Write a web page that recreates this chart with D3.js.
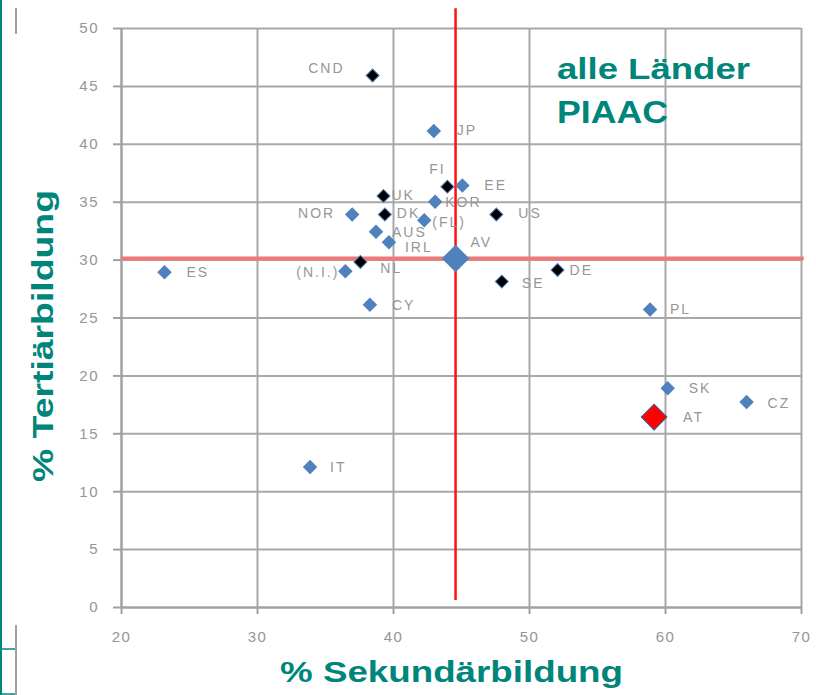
<!DOCTYPE html>
<html>
<head>
<meta charset="utf-8">
<script src="https://cdn.jsdelivr.net/npm/d3@7"></script>
<style>
  body { margin: 0; background: #fff; }
  svg { display: block; font-family: "Liberation Sans", Arial, sans-serif; }
  .tick text { fill: #969696; font-size: 15px; letter-spacing: 1.5px; }
  .pt-label { fill: #969696; font-size: 14px; letter-spacing: 2px; }
</style>
</head>
<body>
<svg width="816" height="695"></svg>
<script>
// values
const countries = ['CND', 'JP', 'FI', 'EE', 'UK', 'KOR', 'NOR', 'DK', 'US', '(FL)', 'AUS', 'IRL',
                   'NL', '(N.I.)', 'ES', 'CY', 'SE', 'DE', 'PL', 'SK', 'CZ', 'IT', 'AV', 'AT'];
const secondary = [38.5, 43.0, 44.0, 45.1, 39.3, 43.1, 37.0, 39.4, 47.6, 42.3, 38.75, 39.7,
                   37.6, 36.5, 23.2, 38.3, 48.0, 52.1, 58.9, 60.2, 66.0, 33.9, 44.6, 59.2];
const tertiary  = [45.9, 41.1, 36.3, 36.4, 35.5, 35.0, 33.9, 33.9, 33.9, 33.4, 32.4, 31.5,
                   29.8, 29.0, 28.9, 26.1, 28.1, 29.1, 25.7, 18.9, 17.7, 12.1, 30.1, 16.4];
const groups    = ['dark', 'blue', 'dark', 'blue', 'dark', 'blue', 'blue', 'dark', 'dark', 'blue', 'blue', 'blue',
                   'dark', 'blue', 'blue', 'blue', 'dark', 'dark', 'blue', 'blue', 'blue', 'blue', 'avg', 'at'];

const xTicks = [20, 30, 40, 50, 60, 70];
const yTicks = [0, 5, 10, 15, 20, 25, 30, 35, 40, 45, 50];

// average reference lines
const avgSecondary = 44.6;
const avgTertiary = 30.1;

// label placement (dx, dy, anchor) per country
const labelPos = {
  'CND': [-28, -7, 'end'], 'JP': [23, -1], 'FI': [-10, -18, 'middle'], 'EE': [22, 0],
  'UK': [8, -1], 'KOR': [10, 0], 'NOR': [-17, -1, 'end'], 'DK': [12, -1], 'US': [22, -1],
  '(FL)': [8, 2], 'AUS': [16, 0], 'IRL': [16, 5], 'NL': [20, 6], '(N.I.)': [-6, 1, 'end'],
  'ES': [22, 0], 'CY': [22, 0], 'SE': [20, 1], 'DE': [12, 0], 'PL': [20, 0], 'SK': [21, 0],
  'CZ': [21, 1], 'IT': [20, 0], 'AV': [15, -16], 'AT': [29, 0]
};

const teal = '#00857b';
const margins = {t: 28, r: 15, b: 88, l: 121};
const SVGsize = {w: 816, h: 695};
const size = {w: SVGsize.w - margins.l - margins.r, h: SVGsize.h - margins.t - margins.b};

const svg = d3.select('svg');

// page frame bits on the left edge
svg.append('line').attr('x1', 1).attr('x2', 1).attr('y1', 0).attr('y2', 695)
  .attr('stroke', teal).attr('stroke-width', 2);
svg.append('line').attr('x1', 16).attr('x2', 16).attr('y1', 8).attr('y2', 34)
  .attr('stroke', '#a0a0a0').attr('stroke-width', 2);
svg.append('line').attr('x1', 16).attr('x2', 16).attr('y1', 625).attr('y2', 695)
  .attr('stroke', '#a0a0a0').attr('stroke-width', 2);
svg.append('line').attr('x1', 0).attr('x2', 15).attr('y1', 649).attr('y2', 649)
  .attr('stroke', teal).attr('stroke-width', 1.5);
svg.append('line').attr('x1', 0).attr('x2', 15).attr('y1', 694).attr('y2', 694)
  .attr('stroke', teal).attr('stroke-width', 1.5);

const g = svg.append('g').attr('transform', `translate(${margins.l}, ${margins.t})`);

const scaleX = d3.scaleLinear().domain([20, 70]).range([0, size.w]);
const scaleY = d3.scaleLinear().domain([0, 50]).range([size.h, 0]);

// grid
g.append('g').attr('class', 'grid')
  .call(d3.axisLeft(scaleY).tickValues(yTicks).tickSize(-size.w).tickFormat(''))
  .call(s => s.select('.domain').remove());
g.append('g').attr('class', 'grid')
  .attr('transform', `translate(0, ${size.h})`)
  .call(d3.axisBottom(scaleX).tickValues(xTicks).tickSize(-size.h).tickFormat(''))
  .call(s => s.select('.domain').remove());
g.selectAll('.grid line').attr('stroke', '#a8a8a8').attr('stroke-width', 2);

// axes with outward ticks
const axisYG = g.append('g')
  .call(d3.axisLeft(scaleY).tickValues(yTicks).tickSize(8).tickSizeOuter(0).tickPadding(14));
const axisXG = g.append('g')
  .attr('transform', `translate(0, ${size.h})`)
  .call(d3.axisBottom(scaleX).tickValues(xTicks).tickSize(7).tickSizeOuter(0).tickPadding(17));
[axisYG, axisXG].forEach(a => {
  a.select('.domain').attr('stroke', '#a0a0a0').attr('stroke-width', 2);
  a.selectAll('.tick line').attr('stroke', '#a0a0a0').attr('stroke-width', 2);
  a.selectAll('text').attr('font-family', null).attr('font-size', null);
});

// average lines
g.append('line')
  .attr('x1', scaleX(20)).attr('x2', scaleX(70.2))
  .attr('y1', scaleY(avgTertiary)).attr('y2', scaleY(avgTertiary))
  .attr('stroke', '#f07878').attr('stroke-width', 4);
g.append('line')
  .attr('x1', scaleX(avgSecondary)).attr('x2', scaleX(avgSecondary))
  .attr('y1', scaleY(51.7)).attr('y2', scaleY(0.6))
  .attr('stroke', '#ff1010').attr('stroke-width', 2.5);

const data = countries.map((c, i) => ({c, x: secondary[i], y: tertiary[i], grp: groups[i]}));

const symArea = {blue: 105, dark: 85, avg: 380, at: 330};
const symFill = {blue: '#4f81bd', dark: '#000', avg: '#4f81bd', at: '#ff0000'};
const symStroke = {blue: 'none', dark: '#4f81bd', avg: 'none', at: '#3a5fa0'};

g.selectAll('path.pt')
  .data(data)
  .enter()
  .append('path')
  .classed('pt', true)
  .attr('d', d => d3.symbol(d3.symbolSquare, symArea[d.grp])())
  .attr('transform', d => `translate(${scaleX(d.x)}, ${scaleY(d.y)}) rotate(45)`)
  .attr('fill', d => symFill[d.grp])
  .attr('stroke', d => symStroke[d.grp])
  .attr('stroke-width', 1);

g.selectAll('text.pt-label')
  .data(data)
  .enter()
  .append('text')
  .classed('pt-label', true)
  .attr('x', d => scaleX(d.x) + labelPos[d.c][0])
  .attr('y', d => scaleY(d.y) + labelPos[d.c][1])
  .attr('dy', '0.35em')
  .attr('text-anchor', d => labelPos[d.c][2] || 'start')
  .text(d => d.c);

// titles
svg.append('text')
  .attr('x', 557).attr('y', 79)
  .attr('fill', teal).attr('font-weight', 'bold').attr('font-size', 29)
  .attr('textLength', 193).attr('lengthAdjust', 'spacingAndGlyphs')
  .text('alle Länder');
svg.append('text')
  .attr('x', 557).attr('y', 123)
  .attr('fill', teal).attr('font-weight', 'bold').attr('font-size', 32)
  .attr('textLength', 111).attr('lengthAdjust', 'spacingAndGlyphs')
  .text('PIAAC');

svg.append('text')
  .attr('x', 280).attr('y', 682)
  .attr('fill', teal).attr('font-weight', 'bold').attr('font-size', 30)
  .attr('textLength', 343).attr('lengthAdjust', 'spacingAndGlyphs')
  .text('% Sekundärbildung');
svg.append('text')
  .attr('transform', 'translate(53, 482) rotate(-90)')
  .attr('fill', teal).attr('font-weight', 'bold').attr('font-size', 30)
  .attr('textLength', 292).attr('lengthAdjust', 'spacingAndGlyphs')
  .text('% Tertiärbildung');
</script>
</body>
</html>
